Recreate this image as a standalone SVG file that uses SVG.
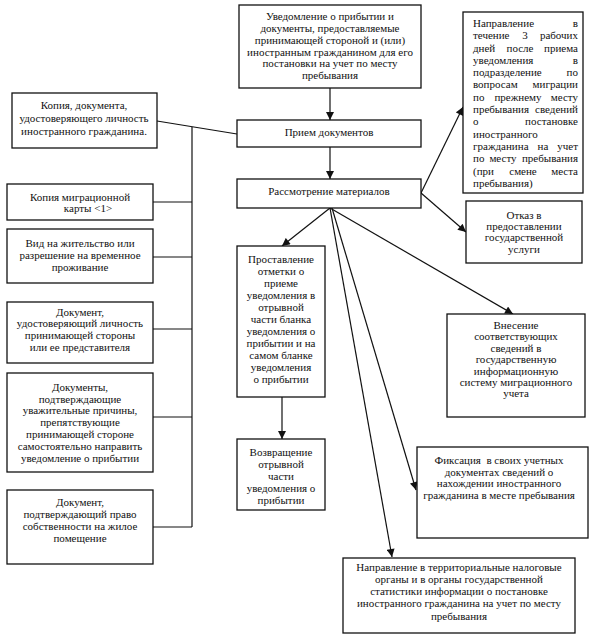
<svg xmlns="http://www.w3.org/2000/svg" width="590" height="637" viewBox="0 0 590 637">
<style>
rect{fill:#fff;stroke:#111;stroke-width:1.3}
text{font-family:"Liberation Serif","Times New Roman",serif;font-size:11px;fill:#111}
.c{text-anchor:middle}
.e{text-anchor:end}
.ln{stroke:#111;stroke-width:1.2;fill:none}
.ar{stroke:#111;stroke-width:1.2;fill:none;marker-end:url(#ah)}
</style>
<defs>
<marker id="ah" viewBox="0 0 10 10" refX="10" refY="5" markerWidth="9" markerHeight="8" markerUnits="userSpaceOnUse" orient="auto">
<path d="M0,0 L10,5 L0,10 z" fill="#111"/>
</marker>
</defs>
<rect x="0" y="0" width="590" height="637" style="stroke:none"/>
<g id="connectors">
<path class="ar" d="M330,88 V120"/>
<path class="ar" d="M330,147 V179"/>
<path class="ln" d="M157,121 L237,134"/>
<path class="ln" d="M192,127 V527"/>
<path class="ln" d="M153,202 H192 M153,257 H192 M153,329 H192 M153,417 H192 M153,527 H192"/>
<path class="ar" d="M421,193 L463,107"/>
<path class="ar" d="M421,193 L466,232"/>
<path class="ar" d="M330,208 L282,246"/>
<path class="ar" d="M330,208 L513,314"/>
<path class="ar" d="M332,208 L416,490"/>
<path class="ar" d="M330,208 L392,557"/>
<path class="ar" d="M282,397 V439"/>
</g>
<g id="n-uvedomlenie">
<rect x="239" y="5" width="182" height="83"/>
<text class="c" x="330" y="20">Уведомление о прибытии и</text>
<text class="c" x="330" y="32">документы, предоставляемые</text>
<text class="c" x="330" y="44">принимающей стороной и (или)</text>
<text class="c" x="330" y="56">иностранным гражданином для его</text>
<text class="c" x="330" y="67">постановки на учет по месту</text>
<text class="c" x="330" y="79">пребывания</text>
</g>
<g id="n-priem">
<rect x="237" y="120" width="184" height="27"/>
<text class="c" x="329" y="136">Прием документов</text>
</g>
<g id="n-rassm">
<rect x="237" y="179" width="184" height="29"/>
<text class="c" x="329" y="195">Рассмотрение материалов</text>
</g>
<g id="n-napr">
<rect x="463" y="12" width="120" height="181"/>
<text x="473" y="27">Направление</text><text class="e" x="578" y="27">в</text>
<text x="473" y="39">течение</text><text class="c" x="525" y="39">3</text><text class="e" x="578" y="39">рабочих</text>
<text x="473" y="52">дней</text><text class="c" x="520" y="52">после</text><text class="e" x="578" y="52">приема</text>
<text x="473" y="64">уведомления</text><text class="e" x="578" y="64">в</text>
<text x="473" y="76">подразделение</text><text class="e" x="578" y="76">по</text>
<text x="473" y="88">вопросам</text><text class="e" x="578" y="88">миграции</text>
<text x="473" y="101">по</text><text class="c" x="518" y="101">прежнему</text><text class="e" x="578" y="101">месту</text>
<text x="473" y="113">пребывания</text><text class="e" x="578" y="113">сведений</text>
<text x="473" y="125">о</text><text class="e" x="578" y="125">постановке</text>
<text x="473" y="138">иностранного</text>
<text x="473" y="150">гражданина</text><text class="c" x="543" y="150">на</text><text class="e" x="578" y="150">учет</text>
<text x="473" y="162">по</text><text class="c" x="503" y="162">месту</text><text class="e" x="578" y="162">пребывания</text>
<text x="473" y="175">(при</text><text class="c" x="523" y="175">смене</text><text class="e" x="578" y="175">места</text>
<text x="473" y="187">пребывания)</text>
</g>
<g id="n-otkaz">
<rect x="466" y="201" width="116" height="62"/>
<text class="c" x="524" y="219">Отказ в</text>
<text class="c" x="524" y="230">предоставлении</text>
<text class="c" x="524" y="241">государственной</text>
<text class="c" x="524" y="253">услуги</text>
</g>
<g id="n-kopia-doc">
<rect x="12" y="93" width="145" height="55"/>
<text class="c" x="84" y="109">Копия, документа,</text>
<text class="c" x="84" y="122">удостоверяющего личность</text>
<text class="c" x="84" y="135">иностранного гражданина.</text>
</g>
<g id="n-kopia-migr">
<rect x="7" y="184" width="146" height="36"/>
<text class="c" x="80" y="201">Копия миграционной</text>
<text class="c" x="88" y="212">карты &lt;1&gt;</text>
</g>
<g id="n-vid">
<rect x="7" y="229" width="146" height="54"/>
<text class="c" x="80" y="247">Вид на жительство или</text>
<text class="c" x="80" y="259">разрешение на временное</text>
<text class="c" x="80" y="271">проживание</text>
</g>
<g id="n-dok-udost">
<rect x="7" y="302" width="146" height="61"/>
<text class="c" x="80" y="316">Документ,</text>
<text class="c" x="80" y="327">удостоверяющий личность</text>
<text class="c" x="80" y="339">принимающей стороны</text>
<text class="c" x="80" y="351">или ее представителя</text>
</g>
<g id="n-dok-prich">
<rect x="7" y="373" width="146" height="99"/>
<text class="c" x="80" y="391">Документы,</text>
<text class="c" x="80" y="403">подтверждающие</text>
<text class="c" x="80" y="414">уважительные причины,</text>
<text class="c" x="80" y="426">препятствующие</text>
<text class="c" x="80" y="438">принимающей стороне</text>
<text class="c" x="80" y="450">самостоятельно направить</text>
<text class="c" x="80" y="462">уведомление о прибытии</text>
</g>
<g id="n-dok-pravo">
<rect x="7" y="490" width="146" height="74"/>
<text class="c" x="80" y="506">Документ,</text>
<text class="c" x="80" y="518">подтверждающий право</text>
<text class="c" x="80" y="530">собственности на жилое</text>
<text class="c" x="80" y="542">помещение</text>
</g>
<g id="n-prostav">
<rect x="237" y="246" width="88" height="151"/>
<text class="c" x="281" y="263">Проставление</text>
<text class="c" x="281" y="275">отметки о</text>
<text class="c" x="281" y="287">приеме</text>
<text class="c" x="281" y="299">уведомления в</text>
<text class="c" x="281" y="311">отрывной</text>
<text class="c" x="281" y="323">части бланка</text>
<text class="c" x="281" y="335">уведомления о</text>
<text class="c" x="281" y="347">прибытии и на</text>
<text class="c" x="281" y="359">самом бланке</text>
<text class="c" x="281" y="371">уведомления</text>
<text class="c" x="281" y="383">о прибытии</text>
</g>
<g id="n-vozvr">
<rect x="237" y="439" width="88" height="71"/>
<text class="c" x="281" y="456">Возвращение</text>
<text class="c" x="281" y="468">отрывной</text>
<text class="c" x="281" y="480">части</text>
<text class="c" x="281" y="492">уведомления о</text>
<text class="c" x="281" y="504">прибытии</text>
</g>
<g id="n-vnesenie">
<rect x="447" y="314" width="138" height="103"/>
<text class="c" x="516" y="329">Внесение</text>
<text class="c" x="516" y="340">соответствующих</text>
<text class="c" x="516" y="352">сведений в</text>
<text class="c" x="516" y="363">государственную</text>
<text class="c" x="516" y="375">информационную</text>
<text class="c" x="516" y="386">систему миграционного</text>
<text class="c" x="516" y="397">учета</text>
</g>
<g id="n-fiks">
<rect x="417" y="447" width="171" height="91"/>
<text class="c" x="499" y="464" style="white-space:pre">Фиксация  в своих учетных</text>
<text class="c" x="499" y="476">документах сведений о</text>
<text class="c" x="499" y="487">нахождении иностранного</text>
<text class="c" x="499" y="499">гражданина в месте пребывания</text>
</g>
<g id="n-napr-nalog">
<rect x="343" y="558" width="232" height="75"/>
<text class="c" x="459" y="571">Направление в территориальные налоговые</text>
<text class="c" x="459" y="583">органы и в органы государственной</text>
<text class="c" x="459" y="595">статистики информации о постановке</text>
<text class="c" x="459" y="607">иностранного гражданина на учет по месту</text>
<text class="c" x="459" y="620">пребывания</text>
</g>
</svg>
